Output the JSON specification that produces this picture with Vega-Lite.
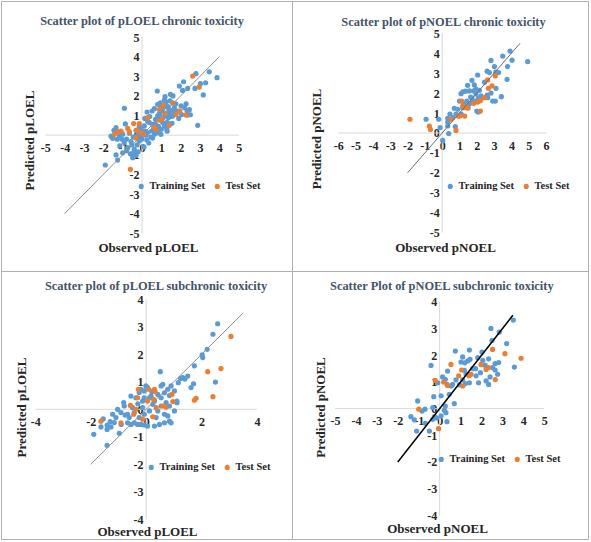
{
"$schema": "https://vega.github.io/schema/vega-lite/v6.json",
"padding": 0,
"background": "white",
"bounds": "flush",
"spacing": 0,
"columns": 2,
"resolve": {"scale": {"x": "independent", "y": "independent", "color": "independent"}, "legend": {"color": "independent"}},
"config": {
  "view": {"stroke": "#b0b0b0", "strokeWidth": 1},
  "axis": {"domain": false, "ticks": false, "grid": false, "labelOverlap": false, "labelFlush": false,
    "labelExpr": "'' + datum.value",
    "labelFont": "Liberation Serif", "labelFontWeight": "bold", "labelFontSize": 12, "labelColor": "#262626",
    "titleFont": "Liberation Serif", "titleFontWeight": "bold", "titleFontSize": 13, "titleColor": "#262626",
    "titleBaseline": "middle", "titleAlign": "center"},
  "axisX": {"labelPadding": 7},
  "axisY": {"labelPadding": 3},
  "legend": {"orient": "none", "direction": "horizontal", "title": null, "symbolType": "circle", "symbolSize": 26, "symbolStrokeWidth": 0,
    "labelFont": "Liberation Serif", "labelFontWeight": "bold", "labelFontSize": 10.5, "labelColor": "#262626", "columnPadding": 6, "labelOffset": 3, "padding": 0},
  "title": {"font": "Liberation Serif", "fontWeight": "bold", "fontSize": 12.4, "color": "#44546a", "baseline": "middle", "anchor": "middle", "frame": "group"}
},
"datasets": {
"lines": [
 {"panel":"A","kind":"axis","obs":-5,"pred":0,"obs2":5,"pred2":0},
 {"panel":"A","kind":"axis","obs":0,"pred":-5,"obs2":0,"pred2":5},
 {"panel":"A","kind":"fit","obs":-4,"pred":-4,"obs2":4,"pred2":4},
 {"panel":"B","kind":"axis","obs":-6,"pred":0,"obs2":6,"pred2":0},
 {"panel":"B","kind":"axis","obs":0,"pred":-5,"obs2":0,"pred2":5},
 {"panel":"B","kind":"fit","obs":-2,"pred":-2,"obs2":4.5,"pred2":4.5},
 {"panel":"C","kind":"axis","obs":-4,"pred":0,"obs2":4,"pred2":0},
 {"panel":"C","kind":"axis","obs":0,"pred":-4,"obs2":0,"pred2":4},
 {"panel":"C","kind":"fit","obs":-2,"pred":-2,"obs2":3.5,"pred2":3.5},
 {"panel":"D","kind":"axis","obs":-5,"pred":0,"obs2":5,"pred2":0},
 {"panel":"D","kind":"axis","obs":0,"pred":-4,"obs2":0,"pred2":4},
 {"panel":"D","kind":"fit","obs":-2,"pred":-2,"obs2":3.5,"pred2":3.5}
],
"points": [
{"panel":"A","set":"Training Set","obs":3.48,"pred":3.23},{"panel":"A","set":"Training Set","obs":3.88,"pred":2.93},{"panel":"A","set":"Training Set","obs":2.79,"pred":3.13},{"panel":"A","set":"Training Set","obs":3.29,"pred":2.67},{"panel":"A","set":"Training Set","obs":3.02,"pred":2.62},{"panel":"A","set":"Training Set","obs":2.74,"pred":2.38},{"panel":"A","set":"Training Set","obs":3.17,"pred":2.05},{"panel":"A","set":"Training Set","obs":2.15,"pred":2.72},{"panel":"A","set":"Training Set","obs":2.10,"pred":2.28},{"panel":"A","set":"Training Set","obs":1.93,"pred":2.50},{"panel":"A","set":"Training Set","obs":2.36,"pred":2.38},{"panel":"A","set":"Training Set","obs":0.79,"pred":2.25},{"panel":"A","set":"Training Set","obs":1.47,"pred":2.08},{"panel":"A","set":"Training Set","obs":1.60,"pred":2.00},{"panel":"A","set":"Training Set","obs":1.19,"pred":1.96},{"panel":"A","set":"Training Set","obs":1.16,"pred":1.79},{"panel":"A","set":"Training Set","obs":0.95,"pred":1.64},{"panel":"A","set":"Training Set","obs":0.81,"pred":1.57},{"panel":"A","set":"Training Set","obs":1.16,"pred":1.54},{"panel":"A","set":"Training Set","obs":1.35,"pred":1.45},{"panel":"A","set":"Training Set","obs":1.67,"pred":1.40},{"panel":"A","set":"Training Set","obs":2.02,"pred":1.49},{"panel":"A","set":"Training Set","obs":2.28,"pred":1.60},{"panel":"A","set":"Training Set","obs":1.84,"pred":1.23},{"panel":"A","set":"Training Set","obs":2.33,"pred":1.23},{"panel":"A","set":"Training Set","obs":2.36,"pred":1.03},{"panel":"A","set":"Training Set","obs":2.50,"pred":1.04},{"panel":"A","set":"Training Set","obs":0.64,"pred":1.35},{"panel":"A","set":"Training Set","obs":0.52,"pred":1.23},{"panel":"A","set":"Training Set","obs":0.26,"pred":1.18},{"panel":"A","set":"Training Set","obs":-0.91,"pred":1.37},{"panel":"A","set":"Training Set","obs":0.81,"pred":0.98},{"panel":"A","set":"Training Set","obs":1.24,"pred":1.06},{"panel":"A","set":"Training Set","obs":1.41,"pred":1.11},{"panel":"A","set":"Training Set","obs":1.59,"pred":0.98},{"panel":"A","set":"Training Set","obs":1.36,"pred":0.89},{"panel":"A","set":"Training Set","obs":1.07,"pred":0.64},{"panel":"A","set":"Training Set","obs":1.16,"pred":0.47},{"panel":"A","set":"Training Set","obs":1.28,"pred":0.33},{"panel":"A","set":"Training Set","obs":2.88,"pred":0.50},{"panel":"A","set":"Training Set","obs":0.38,"pred":0.64},{"panel":"A","set":"Training Set","obs":0.12,"pred":0.47},{"panel":"A","set":"Training Set","obs":0.55,"pred":0.55},{"panel":"A","set":"Training Set","obs":0.90,"pred":0.26},{"panel":"A","set":"Training Set","obs":0.29,"pred":0.13},{"panel":"A","set":"Training Set","obs":0.50,"pred":0.21},{"panel":"A","set":"Training Set","obs":0.75,"pred":0.12},{"panel":"A","set":"Training Set","obs":0.98,"pred":0.04},{"panel":"A","set":"Training Set","obs":-0.05,"pred":0.30},{"panel":"A","set":"Training Set","obs":-0.14,"pred":0.42},{"panel":"A","set":"Training Set","obs":-0.31,"pred":0.25},{"panel":"A","set":"Training Set","obs":-0.86,"pred":0.57},{"panel":"A","set":"Training Set","obs":-1.34,"pred":0.38},{"panel":"A","set":"Training Set","obs":-1.52,"pred":-0.16},{"panel":"A","set":"Training Set","obs":-1.29,"pred":-0.21},{"panel":"A","set":"Training Set","obs":-1.17,"pred":-0.04},{"panel":"A","set":"Training Set","obs":-1.0,"pred":0.05},{"panel":"A","set":"Training Set","obs":-1.05,"pred":-0.2},{"panel":"A","set":"Training Set","obs":-0.92,"pred":-0.38},{"panel":"A","set":"Training Set","obs":-0.8,"pred":-0.2},{"panel":"A","set":"Training Set","obs":-0.57,"pred":-0.33},{"panel":"A","set":"Training Set","obs":-0.74,"pred":-0.64},{"panel":"A","set":"Training Set","obs":-0.52,"pred":-0.50},{"panel":"A","set":"Training Set","obs":-0.40,"pred":-0.72},{"panel":"A","set":"Training Set","obs":-0.43,"pred":-0.89},{"panel":"A","set":"Training Set","obs":-0.31,"pred":-1.03},{"panel":"A","set":"Training Set","obs":-0.48,"pred":-1.15},{"panel":"A","set":"Training Set","obs":-1.34,"pred":-1.01},{"panel":"A","set":"Training Set","obs":-1.26,"pred":-1.27},{"panel":"A","set":"Training Set","obs":-1.90,"pred":-1.52},{"panel":"A","set":"Training Set","obs":-1.0,"pred":-0.9},{"panel":"A","set":"Training Set","obs":-0.8,"pred":-0.8},{"panel":"A","set":"Training Set","obs":-0.14,"pred":-0.30},{"panel":"A","set":"Training Set","obs":-0.05,"pred":-0.13},{"panel":"A","set":"Training Set","obs":0.1,"pred":-0.6},{"panel":"A","set":"Training Set","obs":0.35,"pred":-0.4},{"panel":"A","set":"Training Set","obs":-0.25,"pred":-0.5},{"panel":"A","set":"Training Set","obs":0.0,"pred":-0.2},{"panel":"A","set":"Training Set","obs":1.4,"pred":1.3},{"panel":"A","set":"Training Set","obs":1.7,"pred":1.15},{"panel":"A","set":"Training Set","obs":1.5,"pred":0.95},{"panel":"A","set":"Training Set","obs":1.9,"pred":0.85},{"panel":"A","set":"Training Set","obs":1.25,"pred":1.7},{"panel":"A","set":"Training Set","obs":1.05,"pred":1.25},{"panel":"A","set":"Training Set","obs":0.9,"pred":1.1},{"panel":"A","set":"Training Set","obs":1.1,"pred":0.9},{"panel":"A","set":"Training Set","obs":0.7,"pred":0.8},{"panel":"A","set":"Training Set","obs":0.6,"pred":0.35},{"panel":"A","set":"Training Set","obs":0.45,"pred":-0.1},{"panel":"A","set":"Training Set","obs":0.2,"pred":0.0},{"panel":"A","set":"Training Set","obs":0.3,"pred":0.7},{"panel":"A","set":"Training Set","obs":0.4,"pred":0.95},{"panel":"A","set":"Training Set","obs":1.3,"pred":0.2},{"panel":"A","set":"Training Set","obs":1.55,"pred":0.6},{"panel":"A","set":"Training Set","obs":2.2,"pred":1.4},{"panel":"A","set":"Training Set","obs":2.05,"pred":1.05},{"panel":"A","set":"Training Set","obs":1.75,"pred":1.6},{"panel":"A","set":"Training Set","obs":1.45,"pred":1.75},{"panel":"A","set":"Training Set","obs":0.65,"pred":0.05},{"panel":"A","set":"Training Set","obs":0.55,"pred":-0.15},{"panel":"A","set":"Training Set","obs":0.15,"pred":0.2},{"panel":"A","set":"Training Set","obs":-0.2,"pred":0.05},{"panel":"A","set":"Training Set","obs":-0.45,"pred":-0.1},{"panel":"A","set":"Training Set","obs":-0.65,"pred":0.1},{"panel":"A","set":"Training Set","obs":-1.45,"pred":0.25},{"panel":"A","set":"Training Set","obs":-1.6,"pred":-0.05},{"panel":"A","set":"Training Set","obs":-1.15,"pred":-0.55},{"panel":"A","set":"Training Set","obs":-0.6,"pred":-0.95},{"panel":"A","set":"Training Set","obs":-0.2,"pred":-0.85},{"panel":"A","set":"Training Set","obs":0.25,"pred":-0.25},{"panel":"A","set":"Training Set","obs":0.85,"pred":0.45},{"panel":"A","set":"Training Set","obs":1.0,"pred":0.3},{"panel":"A","set":"Training Set","obs":0.7,"pred":0.55},{"panel":"A","set":"Training Set","obs":1.2,"pred":1.45},{"panel":"A","set":"Training Set","obs":1.0,"pred":1.5},{"panel":"A","set":"Training Set","obs":1.3,"pred":0.65},{"panel":"A","set":"Training Set","obs":1.6,"pred":1.25},{"panel":"A","set":"Training Set","obs":0.15,"pred":0.85},{"panel":"A","set":"Training Set","obs":2.45,"pred":1.3},
{"panel":"A","set":"Test Set","obs":2.62,"pred":3.01},{"panel":"A","set":"Test Set","obs":2.96,"pred":2.45},{"panel":"A","set":"Test Set","obs":1.59,"pred":1.64},{"panel":"A","set":"Test Set","obs":1.10,"pred":1.52},{"panel":"A","set":"Test Set","obs":1.96,"pred":1.23},{"panel":"A","set":"Test Set","obs":2.28,"pred":1.03},{"panel":"A","set":"Test Set","obs":0.90,"pred":1.32},{"panel":"A","set":"Test Set","obs":1.76,"pred":1.06},{"panel":"A","set":"Test Set","obs":0.90,"pred":0.76},{"panel":"A","set":"Test Set","obs":1.02,"pred":0.81},{"panel":"A","set":"Test Set","obs":1.41,"pred":0.50},{"panel":"A","set":"Test Set","obs":0.29,"pred":0.89},{"panel":"A","set":"Test Set","obs":0.64,"pred":0.38},{"panel":"A","set":"Test Set","obs":0.72,"pred":0.30},{"panel":"A","set":"Test Set","obs":-0.14,"pred":0.59},{"panel":"A","set":"Test Set","obs":-0.43,"pred":0.59},{"panel":"A","set":"Test Set","obs":-0.28,"pred":0.25},{"panel":"A","set":"Test Set","obs":-0.74,"pred":0.35},{"panel":"A","set":"Test Set","obs":-0.66,"pred":0.18},{"panel":"A","set":"Test Set","obs":-1.09,"pred":0.21},{"panel":"A","set":"Test Set","obs":-1.26,"pred":0.18},{"panel":"A","set":"Test Set","obs":-1.43,"pred":0.04},{"panel":"A","set":"Test Set","obs":-0.60,"pred":-1.74},{"panel":"A","set":"Test Set","obs":-0.05,"pred":0.13},{"panel":"A","set":"Test Set","obs":0.1,"pred":0.05},{"panel":"A","set":"Test Set","obs":1.2,"pred":1.1},{"panel":"A","set":"Test Set","obs":-0.3,"pred":-0.15},
{"panel":"B","set":"Training Set","obs":4.94,"pred":3.58},{"panel":"B","set":"Training Set","obs":3.92,"pred":4.11},{"panel":"B","set":"Training Set","obs":4.04,"pred":3.65},{"panel":"B","set":"Training Set","obs":3.50,"pred":3.86},{"panel":"B","set":"Training Set","obs":3.78,"pred":3.33},{"panel":"B","set":"Training Set","obs":2.82,"pred":3.64},{"panel":"B","set":"Training Set","obs":3.02,"pred":3.33},{"panel":"B","set":"Training Set","obs":3.26,"pred":3.03},{"panel":"B","set":"Training Set","obs":3.10,"pred":3.05},{"panel":"B","set":"Training Set","obs":2.73,"pred":3.03},{"panel":"B","set":"Training Set","obs":3.75,"pred":2.69},{"panel":"B","set":"Training Set","obs":2.05,"pred":2.91},{"panel":"B","set":"Training Set","obs":1.72,"pred":2.64},{"panel":"B","set":"Training Set","obs":1.47,"pred":2.39},{"panel":"B","set":"Training Set","obs":1.86,"pred":2.41},{"panel":"B","set":"Training Set","obs":1.95,"pred":2.2},{"panel":"B","set":"Training Set","obs":2.15,"pred":2.14},{"panel":"B","set":"Training Set","obs":1.19,"pred":2.07},{"panel":"B","set":"Training Set","obs":1.09,"pred":1.97},{"panel":"B","set":"Training Set","obs":1.57,"pred":2.11},{"panel":"B","set":"Training Set","obs":1.82,"pred":2.11},{"panel":"B","set":"Training Set","obs":1.95,"pred":1.95},{"panel":"B","set":"Training Set","obs":3.11,"pred":2.24},{"panel":"B","set":"Training Set","obs":2.82,"pred":2.0},{"panel":"B","set":"Training Set","obs":3.42,"pred":1.82},{"panel":"B","set":"Training Set","obs":2.92,"pred":1.60},{"panel":"B","set":"Training Set","obs":3.07,"pred":1.60},{"panel":"B","set":"Training Set","obs":2.63,"pred":1.77},{"panel":"B","set":"Training Set","obs":2.24,"pred":1.86},{"panel":"B","set":"Training Set","obs":2.1,"pred":1.75},{"panel":"B","set":"Training Set","obs":1.72,"pred":1.74},{"panel":"B","set":"Training Set","obs":1.42,"pred":1.60},{"panel":"B","set":"Training Set","obs":1.57,"pred":1.45},{"panel":"B","set":"Training Set","obs":1.95,"pred":1.6},{"panel":"B","set":"Training Set","obs":2.0,"pred":1.1},{"panel":"B","set":"Training Set","obs":2.09,"pred":1.05},{"panel":"B","set":"Training Set","obs":1.19,"pred":1.27},{"panel":"B","set":"Training Set","obs":1.0,"pred":1.6},{"panel":"B","set":"Training Set","obs":0.90,"pred":1.19},{"panel":"B","set":"Training Set","obs":0.70,"pred":1.24},{"panel":"B","set":"Training Set","obs":0.8,"pred":0.95},{"panel":"B","set":"Training Set","obs":0.61,"pred":0.77},{"panel":"B","set":"Training Set","obs":0.45,"pred":0.95},{"panel":"B","set":"Training Set","obs":0.32,"pred":0.74},{"panel":"B","set":"Training Set","obs":0.32,"pred":0.55},{"panel":"B","set":"Training Set","obs":0.32,"pred":0.35},{"panel":"B","set":"Training Set","obs":0.76,"pred":0.32},{"panel":"B","set":"Training Set","obs":-0.12,"pred":0.27},{"panel":"B","set":"Training Set","obs":-0.20,"pred":0.69},{"panel":"B","set":"Training Set","obs":-0.93,"pred":0.69},{"panel":"B","set":"Training Set","obs":0.03,"pred":-0.37},{"panel":"B","set":"Training Set","obs":0.38,"pred":-0.03},{"panel":"B","set":"Training Set","obs":1.28,"pred":1.32},{"panel":"B","set":"Training Set","obs":1.65,"pred":1.8},{"panel":"B","set":"Training Set","obs":1.35,"pred":2.1},{"panel":"B","set":"Training Set","obs":2.3,"pred":1.75},{"panel":"B","set":"Training Set","obs":1.5,"pred":1.25},{"panel":"B","set":"Training Set","obs":1.25,"pred":1.45},{"panel":"B","set":"Training Set","obs":2.45,"pred":2.55},{"panel":"B","set":"Training Set","obs":2.6,"pred":3.1},{"panel":"B","set":"Training Set","obs":1.1,"pred":0.95},{"panel":"B","set":"Training Set","obs":2.6,"pred":1.9},{"panel":"B","set":"Training Set","obs":1.75,"pred":1.55},
{"panel":"B","set":"Test Set","obs":-1.86,"pred":0.69},{"panel":"B","set":"Test Set","obs":-0.74,"pred":0.35},{"panel":"B","set":"Test Set","obs":-0.68,"pred":0.18},{"panel":"B","set":"Test Set","obs":0.51,"pred":0.69},{"panel":"B","set":"Test Set","obs":0.80,"pred":0.13},{"panel":"B","set":"Test Set","obs":0.93,"pred":0.85},{"panel":"B","set":"Test Set","obs":1.02,"pred":0.85},{"panel":"B","set":"Test Set","obs":1.13,"pred":1.60},{"panel":"B","set":"Test Set","obs":1.19,"pred":1.35},{"panel":"B","set":"Test Set","obs":1.38,"pred":1.27},{"panel":"B","set":"Test Set","obs":1.47,"pred":1.27},{"panel":"B","set":"Test Set","obs":1.30,"pred":0.85},{"panel":"B","set":"Test Set","obs":1.82,"pred":1.49},{"panel":"B","set":"Test Set","obs":2.05,"pred":1.55},{"panel":"B","set":"Test Set","obs":2.2,"pred":1.62},{"panel":"B","set":"Test Set","obs":2.44,"pred":1.77},{"panel":"B","set":"Test Set","obs":2.21,"pred":1.10},{"panel":"B","set":"Test Set","obs":2.67,"pred":2.24},{"panel":"B","set":"Test Set","obs":2.63,"pred":2.66},{"panel":"B","set":"Test Set","obs":2.88,"pred":2.36},{"panel":"B","set":"Test Set","obs":3.07,"pred":2.86},
{"panel":"C","set":"Training Set","obs":2.58,"pred":3.11},{"panel":"C","set":"Training Set","obs":2.41,"pred":2.73},{"panel":"C","set":"Training Set","obs":2.20,"pred":2.18},{"panel":"C","set":"Training Set","obs":2.02,"pred":1.98},{"panel":"C","set":"Training Set","obs":2.04,"pred":1.88},{"panel":"C","set":"Training Set","obs":1.74,"pred":1.58},{"panel":"C","set":"Training Set","obs":1.50,"pred":1.21},{"panel":"C","set":"Training Set","obs":1.32,"pred":1.15},{"panel":"C","set":"Training Set","obs":1.24,"pred":1.12},{"panel":"C","set":"Training Set","obs":1.16,"pred":0.97},{"panel":"C","set":"Training Set","obs":2.50,"pred":0.99},{"panel":"C","set":"Training Set","obs":1.62,"pred":0.79},{"panel":"C","set":"Training Set","obs":1.71,"pred":0.93},{"panel":"C","set":"Training Set","obs":0.51,"pred":1.37},{"panel":"C","set":"Training Set","obs":1.02,"pred":0.67},{"panel":"C","set":"Training Set","obs":0.84,"pred":0.50},{"panel":"C","set":"Training Set","obs":1.11,"pred":0.30},{"panel":"C","set":"Training Set","obs":0.78,"pred":0.73},{"panel":"C","set":"Training Set","obs":-1.89,"pred":-0.91},{"panel":"C","set":"Training Set","obs":-1.63,"pred":-0.64},{"panel":"C","set":"Training Set","obs":-1.41,"pred":-0.57},{"panel":"C","set":"Training Set","obs":-1.41,"pred":-0.73},{"panel":"C","set":"Training Set","obs":-1.27,"pred":-0.64},{"panel":"C","set":"Training Set","obs":-1.41,"pred":-1.31},{"panel":"C","set":"Training Set","obs":-0.97,"pred":-0.87},{"panel":"C","set":"Training Set","obs":-1.21,"pred":-0.18},{"panel":"C","set":"Training Set","obs":-1.09,"pred":-0.30},{"panel":"C","set":"Training Set","obs":-1.15,"pred":-0.48},{"panel":"C","set":"Training Set","obs":-1.03,"pred":0.00},{"panel":"C","set":"Training Set","obs":-0.91,"pred":-0.12},{"panel":"C","set":"Training Set","obs":-0.81,"pred":0.24},{"panel":"C","set":"Training Set","obs":-0.76,"pred":-0.21},{"panel":"C","set":"Training Set","obs":-0.61,"pred":-0.30},{"panel":"C","set":"Training Set","obs":-0.67,"pred":-0.49},{"panel":"C","set":"Training Set","obs":-0.55,"pred":-0.55},{"panel":"C","set":"Training Set","obs":-0.43,"pred":-0.49},{"panel":"C","set":"Training Set","obs":-0.31,"pred":-0.55},{"panel":"C","set":"Training Set","obs":-0.19,"pred":-0.55},{"panel":"C","set":"Training Set","obs":-0.07,"pred":-0.57},{"panel":"C","set":"Training Set","obs":0.05,"pred":-0.61},{"panel":"C","set":"Training Set","obs":0.30,"pred":-0.61},{"panel":"C","set":"Training Set","obs":0.48,"pred":-0.55},{"panel":"C","set":"Training Set","obs":0.66,"pred":-0.49},{"panel":"C","set":"Training Set","obs":0.84,"pred":-0.43},{"panel":"C","set":"Training Set","obs":0.90,"pred":-0.49},{"panel":"C","set":"Training Set","obs":0.78,"pred":-0.24},{"panel":"C","set":"Training Set","obs":1.02,"pred":-0.06},{"panel":"C","set":"Training Set","obs":1.11,"pred":0.24},{"panel":"C","set":"Training Set","obs":0.72,"pred":0.24},{"panel":"C","set":"Training Set","obs":0.54,"pred":0.42},{"panel":"C","set":"Training Set","obs":0.42,"pred":0.54},{"panel":"C","set":"Training Set","obs":0.54,"pred":0.85},{"panel":"C","set":"Training Set","obs":0.60,"pred":0.91},{"panel":"C","set":"Training Set","obs":0.12,"pred":0.42},{"panel":"C","set":"Training Set","obs":-0.07,"pred":0.42},{"panel":"C","set":"Training Set","obs":-0.13,"pred":0.30},{"panel":"C","set":"Training Set","obs":-0.19,"pred":0.73},{"panel":"C","set":"Training Set","obs":-0.25,"pred":0.61},{"panel":"C","set":"Training Set","obs":-0.07,"pred":0.67},{"panel":"C","set":"Training Set","obs":-0.01,"pred":0.85},{"panel":"C","set":"Training Set","obs":0.05,"pred":0.79},{"panel":"C","set":"Training Set","obs":0.18,"pred":0.48},{"panel":"C","set":"Training Set","obs":0.24,"pred":0.18},{"panel":"C","set":"Training Set","obs":0.12,"pred":-0.06},{"panel":"C","set":"Training Set","obs":0.42,"pred":-0.06},{"panel":"C","set":"Training Set","obs":0.54,"pred":0.12},{"panel":"C","set":"Training Set","obs":0.66,"pred":-0.18},{"panel":"C","set":"Training Set","obs":-0.07,"pred":-0.18},{"panel":"C","set":"Training Set","obs":-0.25,"pred":-0.30},{"panel":"C","set":"Training Set","obs":-0.49,"pred":0.06},{"panel":"C","set":"Training Set","obs":-0.67,"pred":-0.18},{"panel":"C","set":"Training Set","obs":-0.79,"pred":0.12},{"panel":"C","set":"Training Set","obs":-0.55,"pred":0.48},{"panel":"C","set":"Training Set","obs":-0.37,"pred":0.42},{"panel":"C","set":"Training Set","obs":0.90,"pred":0.85},{"panel":"C","set":"Training Set","obs":0.30,"pred":0.30},{"panel":"C","set":"Training Set","obs":0.36,"pred":-0.30},{"panel":"C","set":"Training Set","obs":-0.43,"pred":-0.12},{"panel":"C","set":"Training Set","obs":-0.13,"pred":0.06},{"panel":"C","set":"Training Set","obs":0.66,"pred":0.60},{"panel":"C","set":"Training Set","obs":0.84,"pred":0.12},{"panel":"C","set":"Training Set","obs":1.40,"pred":1.10},{"panel":"C","set":"Training Set","obs":-1.55,"pred":-0.35},{"panel":"C","set":"Training Set","obs":-1.30,"pred":-0.45},{"panel":"C","set":"Training Set","obs":-0.30,"pred":0.20},{"panel":"C","set":"Training Set","obs":0.20,"pred":0.65},{"panel":"C","set":"Training Set","obs":-0.90,"pred":-0.55},
{"panel":"C","set":"Test Set","obs":3.06,"pred":2.65},{"panel":"C","set":"Test Set","obs":2.22,"pred":1.37},{"panel":"C","set":"Test Set","obs":2.70,"pred":1.48},{"panel":"C","set":"Test Set","obs":1.80,"pred":0.40},{"panel":"C","set":"Test Set","obs":1.74,"pred":0.33},{"panel":"C","set":"Test Set","obs":2.41,"pred":0.46},{"panel":"C","set":"Test Set","obs":0.93,"pred":0.54},{"panel":"C","set":"Test Set","obs":0.96,"pred":0.28},{"panel":"C","set":"Test Set","obs":0.60,"pred":0.12},{"panel":"C","set":"Test Set","obs":0.72,"pred":0.08},{"panel":"C","set":"Test Set","obs":0.36,"pred":0.06},{"panel":"C","set":"Test Set","obs":0.09,"pred":0.73},{"panel":"C","set":"Test Set","obs":0.30,"pred":0.73},{"panel":"C","set":"Test Set","obs":0.32,"pred":0.64},{"panel":"C","set":"Test Set","obs":0.27,"pred":0.36},{"panel":"C","set":"Test Set","obs":0.05,"pred":0.30},{"panel":"C","set":"Test Set","obs":-0.28,"pred":0.73},{"panel":"C","set":"Test Set","obs":-0.31,"pred":0.42},{"panel":"C","set":"Test Set","obs":-0.57,"pred":0.14},{"panel":"C","set":"Test Set","obs":-0.37,"pred":0.00},{"panel":"C","set":"Test Set","obs":-0.45,"pred":-0.18},{"panel":"C","set":"Test Set","obs":-0.91,"pred":-0.49},{"panel":"C","set":"Test Set","obs":-1.63,"pred":-0.43},{"panel":"C","set":"Test Set","obs":-0.13,"pred":-0.36},{"panel":"C","set":"Test Set","obs":0.24,"pred":-0.27},
{"panel":"D","set":"Training Set","obs":3.52,"pred":3.32},{"panel":"D","set":"Training Set","obs":2.45,"pred":3.01},{"panel":"D","set":"Training Set","obs":2.85,"pred":2.87},{"panel":"D","set":"Training Set","obs":2.50,"pred":2.56},{"panel":"D","set":"Training Set","obs":3.20,"pred":2.44},{"panel":"D","set":"Training Set","obs":0.75,"pred":2.16},{"panel":"D","set":"Training Set","obs":1.42,"pred":2.20},{"panel":"D","set":"Training Set","obs":2.02,"pred":2.12},{"panel":"D","set":"Training Set","obs":1.10,"pred":1.94},{"panel":"D","set":"Training Set","obs":1.02,"pred":1.75},{"panel":"D","set":"Training Set","obs":1.20,"pred":1.72},{"panel":"D","set":"Training Set","obs":1.34,"pred":1.79},{"panel":"D","set":"Training Set","obs":1.45,"pred":1.85},{"panel":"D","set":"Training Set","obs":1.82,"pred":1.91},{"panel":"D","set":"Training Set","obs":2.06,"pred":1.81},{"panel":"D","set":"Training Set","obs":2.18,"pred":1.62},{"panel":"D","set":"Training Set","obs":2.34,"pred":1.87},{"panel":"D","set":"Training Set","obs":2.65,"pred":1.69},{"panel":"D","set":"Training Set","obs":2.82,"pred":1.73},{"panel":"D","set":"Training Set","obs":3.57,"pred":1.56},{"panel":"D","set":"Training Set","obs":-0.41,"pred":1.62},{"panel":"D","set":"Training Set","obs":2.53,"pred":1.54},{"panel":"D","set":"Training Set","obs":1.18,"pred":1.44},{"panel":"D","set":"Training Set","obs":1.58,"pred":1.50},{"panel":"D","set":"Training Set","obs":1.72,"pred":1.50},{"panel":"D","set":"Training Set","obs":1.74,"pred":1.23},{"panel":"D","set":"Training Set","obs":1.26,"pred":1.30},{"panel":"D","set":"Training Set","obs":1.10,"pred":1.08},{"panel":"D","set":"Training Set","obs":1.23,"pred":0.94},{"panel":"D","set":"Training Set","obs":1.42,"pred":0.97},{"panel":"D","set":"Training Set","obs":1.86,"pred":0.97},{"panel":"D","set":"Training Set","obs":2.22,"pred":1.04},{"panel":"D","set":"Training Set","obs":2.34,"pred":0.91},{"panel":"D","set":"Training Set","obs":2.77,"pred":1.29},{"panel":"D","set":"Training Set","obs":2.41,"pred":1.19},{"panel":"D","set":"Training Set","obs":0.78,"pred":1.08},{"panel":"D","set":"Training Set","obs":0.62,"pred":0.91},{"panel":"D","set":"Training Set","obs":0.38,"pred":1.41},{"panel":"D","set":"Training Set","obs":0.14,"pred":1.19},{"panel":"D","set":"Training Set","obs":0.27,"pred":1.10},{"panel":"D","set":"Training Set","obs":0.35,"pred":0.91},{"panel":"D","set":"Training Set","obs":-0.09,"pred":0.97},{"panel":"D","set":"Training Set","obs":0.46,"pred":0.54},{"panel":"D","set":"Training Set","obs":0.07,"pred":0.48},{"panel":"D","set":"Training Set","obs":-0.28,"pred":0.45},{"panel":"D","set":"Training Set","obs":0.70,"pred":0.19},{"panel":"D","set":"Training Set","obs":0.27,"pred":0.10},{"panel":"D","set":"Training Set","obs":0.22,"pred":-0.06},{"panel":"D","set":"Training Set","obs":-0.33,"pred":0.04},{"panel":"D","set":"Training Set","obs":-1.05,"pred":0.29},{"panel":"D","set":"Training Set","obs":-0.84,"pred":-0.09},{"panel":"D","set":"Training Set","obs":-0.70,"pred":-0.02},{"panel":"D","set":"Training Set","obs":-1.37,"pred":-0.30},{"panel":"D","set":"Training Set","obs":-1.21,"pred":-0.42},{"panel":"D","set":"Training Set","obs":-1.10,"pred":-0.84},{"panel":"D","set":"Training Set","obs":-0.49,"pred":-0.84},{"panel":"D","set":"Training Set","obs":-0.25,"pred":-0.30},{"panel":"D","set":"Training Set","obs":-0.33,"pred":-0.40},{"panel":"D","set":"Training Set","obs":0.07,"pred":-0.27},{"panel":"D","set":"Training Set","obs":0.35,"pred":-0.49},{"panel":"D","set":"Training Set","obs":-0.68,"pred":-0.55},{"panel":"D","set":"Training Set","obs":0.95,"pred":0.90},{"panel":"D","set":"Training Set","obs":2.0,"pred":1.65},{"panel":"D","set":"Training Set","obs":2.65,"pred":1.45},{"panel":"D","set":"Training Set","obs":1.95,"pred":1.35},{"panel":"D","set":"Training Set","obs":0.55,"pred":0.85},{"panel":"D","set":"Training Set","obs":0.30,"pred":-0.15},{"panel":"D","set":"Training Set","obs":-0.15,"pred":-0.35},
{"panel":"D","set":"Test Set","obs":2.53,"pred":2.22},{"panel":"D","set":"Test Set","obs":3.12,"pred":2.06},{"panel":"D","set":"Test Set","obs":3.89,"pred":1.89},{"panel":"D","set":"Test Set","obs":0.54,"pred":1.66},{"panel":"D","set":"Test Set","obs":1.98,"pred":1.66},{"panel":"D","set":"Test Set","obs":2.22,"pred":1.47},{"panel":"D","set":"Test Set","obs":2.34,"pred":1.54},{"panel":"D","set":"Test Set","obs":1.05,"pred":1.45},{"panel":"D","set":"Test Set","obs":1.50,"pred":1.29},{"panel":"D","set":"Test Set","obs":1.39,"pred":1.23},{"panel":"D","set":"Test Set","obs":2.66,"pred":1.09},{"panel":"D","set":"Test Set","obs":0.91,"pred":1.23},{"panel":"D","set":"Test Set","obs":1.10,"pred":0.85},{"panel":"D","set":"Test Set","obs":0.19,"pred":1.00},{"panel":"D","set":"Test Set","obs":0.38,"pred":0.87},{"panel":"D","set":"Test Set","obs":-0.21,"pred":1.06},{"panel":"D","set":"Test Set","obs":-1.0,"pred":-0.02},{"panel":"D","set":"Test Set","obs":-0.05,"pred":-0.75},{"panel":"D","set":"Test Set","obs":1.45,"pred":1.28}
]
},
"concat": [
  {"width": 291, "height": 270,
   "title": {"text": "Scatter plot of pLOEL chronic toxicity", "offset": -26, "dx": -4.5},
   "encoding": {
     "x": {"field": "obs", "type": "quantitative", "scale": {"domain": [-7.291, 7.756], "nice": false, "zero": false},
       "axis": {"values": [-5,-4,-3,-2,-1,0,1,2,3,4,5], "offset": -135.8, "title": "Observed pLOEL", "titleX": 147, "titleY": 112.5}},
     "y": {"field": "pred", "type": "quantitative", "scale": {"domain": [-6.921, 6.834], "nice": false, "zero": false},
       "axis": {"values": [-5,-4,-3,-2,-1,0,1,2,3,4,5], "offset": -141, "title": "Predicted pLOEL", "titleX": -113, "titleY": 139}}},
   "layer": [
    {"data": {"name": "lines"}, "transform": [{"filter": "datum.panel === 'A' && datum.kind === 'axis'"}],
     "mark": {"type": "rule", "color": "#d9d9d9", "strokeWidth": 1},
     "encoding": {"x2": {"field": "obs2"}, "y2": {"field": "pred2"}}},
    {"data": {"name": "points"}, "transform": [{"filter": "datum.panel === 'A'"}],
     "mark": {"type": "point", "filled": true, "size": 27, "opacity": 1},
     "encoding": {"color": {"field": "set", "type": "nominal", "scale": {"domain": ["Training Set", "Test Set"], "range": ["#5b9bd5", "#ed7d31"]},
         "legend": {"legendX": 135, "legendY": 180}}}},
    {"data": {"name": "lines"}, "transform": [{"filter": "datum.panel === 'A' && datum.kind === 'fit'"}],
     "mark": {"type": "rule", "color": "#8c8c8c", "strokeWidth": 1},
     "encoding": {"x2": {"field": "obs2"}, "y2": {"field": "pred2"}}}
   ]},
  {"width": 296, "height": 270,
   "title": {"text": "Scatter plot of pNOEL chronic toxicity", "offset": -27.5, "dx": 3.5},
   "encoding": {
     "x": {"field": "obs", "type": "quantitative", "scale": {"domain": [-8.675, 8.426], "nice": false, "zero": false},
       "axis": {"values": [-6,-5,-4,-3,-2,-1,0,1,2,3,4,5,6], "offset": -138, "title": "Observed pNOEL", "titleX": 153, "titleY": 114.7}},
     "y": {"field": "pred", "type": "quantitative", "scale": {"domain": [-6.921, 6.62], "nice": false, "zero": false},
       "axis": {"values": [-5,-4,-3,-2,-1,0,1,2,3,4,5], "offset": -150.2, "title": "Predicted pNOEL", "titleX": -126, "titleY": 137.5}}},
   "layer": [
    {"data": {"name": "lines"}, "transform": [{"filter": "datum.panel === 'B' && datum.kind === 'axis'"}],
     "mark": {"type": "rule", "color": "#d9d9d9", "strokeWidth": 1},
     "encoding": {"x2": {"field": "obs2"}, "y2": {"field": "pred2"}}},
    {"data": {"name": "points"}, "transform": [{"filter": "datum.panel === 'B'"}],
     "mark": {"type": "point", "filled": true, "size": 27, "opacity": 1},
     "encoding": {"color": {"field": "set", "type": "nominal", "scale": {"domain": ["Training Set", "Test Set"], "range": ["#5b9bd5", "#ed7d31"]},
         "legend": {"legendX": 153, "legendY": 180}}}},
    {"data": {"name": "lines"}, "transform": [{"filter": "datum.panel === 'B' && datum.kind === 'fit'"}],
     "mark": {"type": "rule", "color": "#6e6e6e", "strokeWidth": 1},
     "encoding": {"x2": {"field": "obs2"}, "y2": {"field": "pred2"}}}
   ]},
  {"width": 291, "height": 268,
   "title": {"text": "Scatter plot of pLOEL subchronic toxicity", "offset": -21, "dx": 9.5},
   "encoding": {
     "x": {"field": "obs", "type": "quantitative", "scale": {"domain": [-5.238, 5.263], "nice": false, "zero": false},
       "axis": {"values": [-4,-2,0,2,4], "offset": -129.7, "title": "Observed pLOEL", "titleX": 146, "titleY": 122.5}},
     "y": {"field": "pred", "type": "quantitative", "scale": {"domain": [-4.716, 5.029], "nice": false, "zero": false},
       "axis": {"values": [-4,-3,-2,-1,0,1,2,3,4], "offset": -145.1, "title": "Predicted pLOEL", "titleX": -125, "titleY": 136}}},
   "layer": [
    {"data": {"name": "lines"}, "transform": [{"filter": "datum.panel === 'C' && datum.kind === 'axis'"}],
     "mark": {"type": "rule", "color": "#d9d9d9", "strokeWidth": 1},
     "encoding": {"x2": {"field": "obs2"}, "y2": {"field": "pred2"}}},
    {"data": {"name": "points"}, "transform": [{"filter": "datum.panel === 'C'"}],
     "mark": {"type": "point", "filled": true, "size": 27, "opacity": 1},
     "encoding": {"color": {"field": "set", "type": "nominal", "scale": {"domain": ["Training Set", "Test Set"], "range": ["#5b9bd5", "#ed7d31"]},
         "legend": {"legendX": 145, "legendY": 191}}}},
    {"data": {"name": "lines"}, "transform": [{"filter": "datum.panel === 'C' && datum.kind === 'fit'"}],
     "mark": {"type": "rule", "color": "#8c8c8c", "strokeWidth": 1},
     "encoding": {"x2": {"field": "obs2"}, "y2": {"field": "pred2"}}}
   ]},
  {"width": 296, "height": 268,
   "title": {"text": "Scatter Plot of pNOEL subchronic toxicity", "offset": -21, "dx": 1.8},
   "encoding": {
     "x": {"field": "obs", "type": "quantitative", "scale": {"domain": [-7.054, 7.088], "nice": false, "zero": false},
       "axis": {"values": [-5,-4,-3,-2,-1,0,1,2,3,4,5], "offset": -130.3, "title": "Observed pNOEL", "titleX": 145, "titleY": 119.5}},
     "y": {"field": "pred", "type": "quantitative", "scale": {"domain": [-4.889, 5.162], "nice": false, "zero": false},
       "axis": {"values": [-4,-3,-2,-1,0,1,2,3,4], "offset": -147.7, "title": "Predicted pNOEL", "titleX": -119, "titleY": 136}}},
   "layer": [
    {"data": {"name": "lines"}, "transform": [{"filter": "datum.panel === 'D' && datum.kind === 'axis'"}],
     "mark": {"type": "rule", "color": "#d9d9d9", "strokeWidth": 1},
     "encoding": {"x2": {"field": "obs2"}, "y2": {"field": "pred2"}}},
    {"data": {"name": "points"}, "transform": [{"filter": "datum.panel === 'D'"}],
     "mark": {"type": "point", "filled": true, "size": 27, "opacity": 1},
     "encoding": {"color": {"field": "set", "type": "nominal", "scale": {"domain": ["Training Set", "Test Set"], "range": ["#5b9bd5", "#ed7d31"]},
         "legend": {"legendX": 144, "legendY": 183}}}},
    {"data": {"name": "lines"}, "transform": [{"filter": "datum.panel === 'D' && datum.kind === 'fit'"}],
     "mark": {"type": "rule", "color": "#000000", "strokeWidth": 1.5},
     "encoding": {"x2": {"field": "obs2"}, "y2": {"field": "pred2"}}}
   ]}
]
}
